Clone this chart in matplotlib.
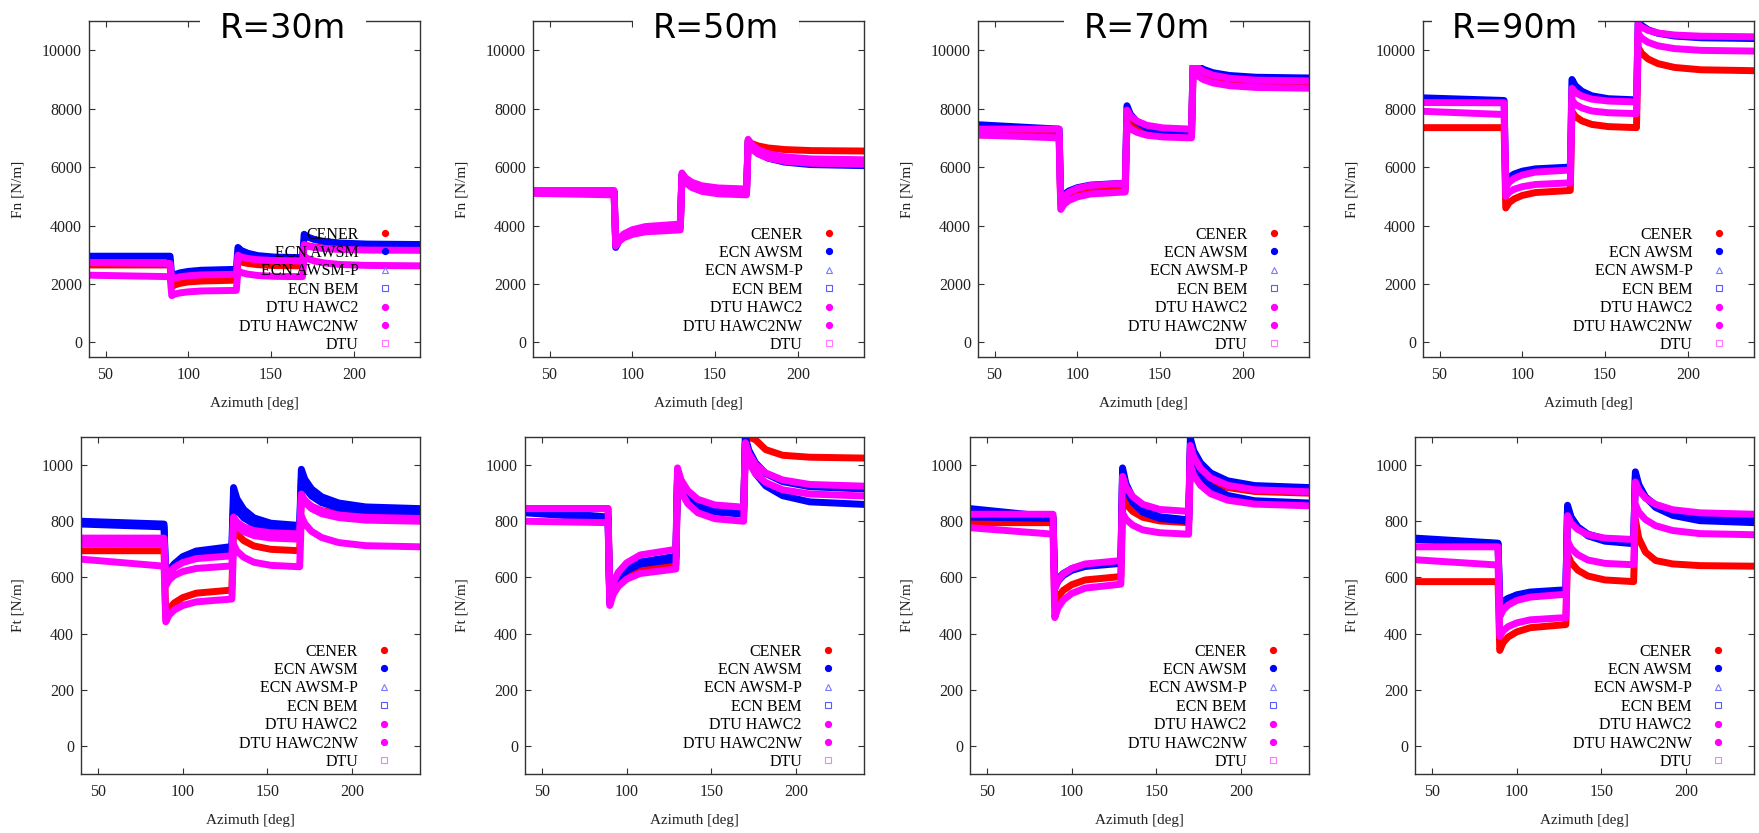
#!/usr/bin/env python3
"""Normal and tangential blade loads vs azimuth for four radial stations."""

import matplotlib
matplotlib.use('Agg')
import matplotlib.pyplot as plt
from matplotlib.lines import Line2D

# azimuth stations [deg] shared by all series
AZ = [40, 89, 90, 92, 95, 100, 108, 129, 130, 132, 136, 142, 152, 169,
      170, 172, 176, 182, 192, 208, 240]

RADII = ['R=30m', 'R=50m', 'R=70m', 'R=90m']
SERIES = ['CENER', 'ECN AWSM', 'ECN AWSM-P', 'ECN BEM', 'DTU HAWC2', 'DTU HAWC2NW', 'DTU']

# ---- Fn [N/m] ----
fn30_cener = [2650, 2650, 1900, 1970, 2020, 2070, 2100, 2130, 2800, 2750, 2700, 2660, 2630, 2620, 3350, 3310, 3265, 3230, 3200, 3190, 3180]
fn30_awsm = [2950, 2950, 2250, 2325, 2380, 2430, 2470, 2500, 3250, 3145, 3050, 2970, 2920, 2900, 3700, 3610, 3525, 3455, 3400, 3365, 3350]
fn30_hawc2 = [2730, 2700, 2150, 2200, 2245, 2280, 2310, 2330, 2980, 2925, 2870, 2830, 2800, 2790, 3350, 3300, 3250, 3210, 3180, 3160, 3150]
fn30_hawc2nw = [2300, 2250, 1600, 1655, 1695, 1730, 1760, 1780, 2450, 2390, 2335, 2290, 2260, 2250, 2950, 2870, 2785, 2720, 2665, 2635, 2620]

fn50_cener = [5150, 5150, 3300, 3495, 3640, 3770, 3870, 3950, 5700, 5520, 5350, 5220, 5140, 5100, 6900, 6810, 6725, 6655, 6600, 6565, 6550]
fn50_awsm = [5200, 5150, 3250, 3475, 3640, 3790, 3910, 4000, 5750, 5570, 5400, 5270, 5185, 5150, 6900, 6690, 6475, 6305, 6170, 6085, 6050]
fn50_hawc2 = [5200, 5200, 3350, 3560, 3715, 3855, 3965, 4050, 5800, 5635, 5480, 5360, 5285, 5250, 6950, 6775, 6600, 6460, 6350, 6280, 6250]
fn50_hawc2nw = [5100, 5050, 3300, 3465, 3585, 3695, 3785, 3850, 5650, 5470, 5300, 5170, 5085, 5050, 6800, 6625, 6450, 6310, 6200, 6130, 6100]

fn70_cener = [7100, 7100, 4700, 4865, 4985, 5095, 5185, 5250, 7600, 7450, 7310, 7200, 7130, 7100, 9400, 9250, 9100, 8980, 8885, 8825, 8800]
fn70_awsm = [7450, 7300, 4900, 5065, 5185, 5295, 5385, 5450, 8100, 7815, 7550, 7340, 7205, 7150, 9650, 9500, 9350, 9230, 9135, 9075, 9050]
fn70_hawc2 = [7300, 7300, 4800, 4995, 5140, 5270, 5370, 5450, 7950, 7755, 7575, 7430, 7340, 7300, 9600, 9440, 9275, 9145, 9040, 8975, 8950]
fn70_hawc2nw = [7100, 7000, 4550, 4730, 4860, 4980, 5080, 5150, 7450, 7315, 7190, 7090, 7030, 7000, 9300, 9150, 9000, 8880, 8785, 8725, 8700]

fn90_cener = [7350, 7350, 4600, 4780, 4910, 5030, 5130, 5200, 7900, 7735, 7580, 7460, 7385, 7350, 10100, 9900, 9700, 9540, 9410, 9330, 9300]
fn90_awsm = [8370, 8280, 5500, 5650, 5760, 5860, 5940, 6000, 9000, 8790, 8595, 8440, 8340, 8300, 11000, 10850, 10700, 10580, 10485, 10425, 10400]
fn90_hawc2 = [8210, 8200, 5300, 5480, 5610, 5730, 5830, 5900, 8700, 8560, 8430, 8325, 8260, 8230, 10900, 10790, 10680, 10590, 10520, 10480, 10460]
fn90_hawc2nw = [7910, 7800, 5000, 5140, 5240, 5330, 5405, 5460, 8290, 8150, 8025, 7920, 7860, 7830, 10570, 10420, 10270, 10150, 10055, 9995, 9970]

# ---- Ft [N/m] ----
ft30_cener = [695, 695, 460, 489, 509, 528, 544, 555, 780, 755, 731, 712, 700, 695, 890, 871, 852, 838, 826, 818, 815]
ft30_awsm = [800, 790, 580, 619, 648, 674, 694, 710, 920, 880, 842, 812, 793, 785, 985, 950, 915, 887, 865, 851, 845]
ft30_bem = [790, 780, 600, 627, 647, 665, 679, 690, 870, 840, 812, 790, 776, 770, 950, 920, 890, 866, 847, 835, 830]
ft30_hawc2 = [740, 740, 590, 616, 635, 653, 667, 677, 815, 797, 780, 767, 759, 755, 897, 875, 854, 836, 822, 814, 810]
ft30_hawc2nw = [665, 640, 442, 466, 484, 500, 513, 523, 718, 694, 672, 654, 643, 638, 819, 792, 764, 742, 724, 713, 709]
ft30_dtu = [720, 720, 570, 591, 607, 621, 632, 641, 800, 781, 763, 749, 740, 736, 890, 868, 845, 827, 813, 804, 800]

ft50_cener = [845, 845, 520, 558, 585, 610, 630, 645, 960, 922, 888, 860, 842, 835, 1100, 1100, 1090, 1055, 1035, 1028, 1025]
ft50_awsm = [840, 815, 510, 560, 596, 629, 655, 675, 975, 933, 894, 863, 843, 835, 1100, 1054, 1008, 970, 941, 923, 915]
ft50_bem = [830, 810, 520, 564, 595, 624, 648, 665, 960, 920, 882, 852, 833, 825, 1080, 1025, 970, 926, 891, 869, 860]
ft50_hawc2 = [845, 845, 530, 581, 618, 652, 680, 700, 990, 948, 909, 878, 858, 850, 1080, 1041, 1002, 972, 947, 931, 925]
ft50_hawc2nw = [800, 795, 500, 539, 568, 594, 614, 630, 950, 905, 863, 830, 809, 800, 1050, 1010, 970, 938, 912, 897, 890]

ft70_cener = [795, 795, 500, 531, 554, 574, 591, 603, 890, 862, 835, 814, 801, 795, 1040, 1005, 970, 942, 920, 906, 900]
ft70_awsm = [845, 815, 570, 596, 614, 631, 645, 655, 990, 934, 883, 842, 816, 805, 1095, 1051, 1008, 972, 944, 927, 920]
ft70_bem = [815, 810, 560, 587, 607, 625, 639, 650, 960, 912, 867, 832, 810, 800, 1060, 1011, 962, 924, 892, 873, 865]
ft70_hawc2 = [825, 825, 560, 590, 612, 632, 648, 660, 960, 922, 888, 860, 842, 835, 1070, 1029, 988, 954, 928, 912, 905]
ft70_hawc2nw = [777, 754, 457, 493, 519, 543, 562, 576, 830, 807, 786, 769, 759, 754, 1000, 964, 928, 898, 875, 861, 855]

ft90_cener = [585, 585, 340, 368, 388, 406, 421, 432, 683, 654, 626, 605, 591, 585, 807, 740, 690, 660, 648, 642, 640]
ft90_awsm = [740, 722, 490, 510, 524, 538, 548, 556, 857, 816, 778, 748, 729, 720, 976, 931, 886, 849, 821, 802, 795]
ft90_bem = [735, 720, 500, 515, 526, 536, 544, 550, 850, 814, 780, 754, 737, 730, 960, 923, 886, 857, 834, 819, 813]
ft90_hawc2 = [709, 709, 460, 484, 502, 518, 530, 540, 820, 794, 771, 752, 740, 735, 940, 911, 882, 860, 841, 830, 825]
ft90_hawc2nw = [663, 644, 390, 410, 425, 438, 449, 457, 730, 704, 681, 662, 650, 645, 860, 833, 806, 784, 767, 756, 752]

# series keyed by legend name (missing = hidden under the others)
fn_panels = [
    {'CENER': fn30_cener, 'ECN AWSM': fn30_awsm, 'DTU HAWC2': fn30_hawc2, 'DTU HAWC2NW': fn30_hawc2nw},
    {'CENER': fn50_cener, 'ECN AWSM': fn50_awsm, 'DTU HAWC2': fn50_hawc2, 'DTU HAWC2NW': fn50_hawc2nw},
    {'CENER': fn70_cener, 'ECN AWSM': fn70_awsm, 'DTU HAWC2': fn70_hawc2, 'DTU HAWC2NW': fn70_hawc2nw},
    {'CENER': fn90_cener, 'ECN AWSM': fn90_awsm, 'DTU HAWC2': fn90_hawc2, 'DTU HAWC2NW': fn90_hawc2nw},
]
ft_panels = [
    {'CENER': ft30_cener, 'ECN AWSM': ft30_awsm, 'ECN BEM': ft30_bem, 'DTU HAWC2': ft30_hawc2,
     'DTU HAWC2NW': ft30_hawc2nw, 'DTU': ft30_dtu},
    {'CENER': ft50_cener, 'ECN AWSM': ft50_awsm, 'ECN BEM': ft50_bem, 'DTU HAWC2': ft50_hawc2,
     'DTU HAWC2NW': ft50_hawc2nw},
    {'CENER': ft70_cener, 'ECN AWSM': ft70_awsm, 'ECN BEM': ft70_bem, 'DTU HAWC2': ft70_hawc2,
     'DTU HAWC2NW': ft70_hawc2nw},
    {'CENER': ft90_cener, 'ECN AWSM': ft90_awsm, 'ECN BEM': ft90_bem, 'DTU HAWC2': ft90_hawc2,
     'DTU HAWC2NW': ft90_hawc2nw},
]

# gnuplot-like styles
RED, BLUE, MAG = '#ff0000', '#0000ff', '#ff00ff'
line_color = {'CENER': RED, 'ECN AWSM': BLUE, 'ECN AWSM-P': BLUE, 'ECN BEM': BLUE,
              'DTU HAWC2': MAG, 'DTU HAWC2NW': MAG, 'DTU': MAG}
key_style = {
    'CENER': dict(marker='o', color=RED, mfc=RED, ms=4.2),
    'ECN AWSM': dict(marker='o', color=BLUE, mfc=BLUE, ms=4.2),
    'ECN AWSM-P': dict(marker='^', color='#7a7aff', mfc='none', ms=4.5, mew=0.8),
    'ECN BEM': dict(marker='s', color='#5a5aff', mfc='none', ms=4.5, mew=0.8),
    'DTU HAWC2': dict(marker='o', color=MAG, mfc=MAG, ms=4.2),
    'DTU HAWC2NW': dict(marker='o', color=MAG, mfc=MAG, ms=4.2),
    'DTU': dict(marker='s', color='#ff7aff', mfc='none', ms=4.5, mew=0.8),
}

plt.rcParams['font.family'] = ['Liberation Serif']

W, H = 1759, 833
fig = plt.figure(figsize=(W / 100, H / 100), dpi=100)

top_left = [89, 533, 978, 1423]
bot_left = [81, 525, 970, 1415]
title_x = [283, 716, 1147, 1515]
FS = 11.5


def draw_panel(ax, data, ylim, yticks, ylabel, ylab_x):
    for name in SERIES:
        vals = data.get(name)
        if vals is None:
            continue
        ax.plot(AZ, vals, color=line_color[name], lw=5.0,
                solid_capstyle='round', solid_joinstyle='round')
    ax.set_xlim(40, 240)
    ax.set_ylim(*ylim)
    ax.set_xticks([50, 100, 150, 200])
    ax.set_yticks(yticks)
    ax.tick_params(direction='in', length=4, width=0.8, top=True, right=True,
                   labelsize=FS, colors='#333333', labelcolor='#222222')
    ax.tick_params(axis='x', pad=7)
    ax.tick_params(axis='y', pad=5)
    for sp in ax.spines.values():
        sp.set_color('#333333')
        sp.set_linewidth(1.0)
    ax.set_xlabel('Azimuth [deg]', fontsize=11, color='#222222')
    ax.set_ylabel(ylabel, fontsize=11, color='#222222')
    ax.xaxis.set_label_coords(0.5, -0.137)
    ax.xaxis.label.set_va('center')
    ax.yaxis.set_label_coords(ylab_x, 0.5)
    ax.yaxis.label.set_va('center')

    handles = [Line2D([], [], ls='none', **key_style[n]) for n in SERIES]
    ax.legend(handles, SERIES, loc='lower right', bbox_to_anchor=(0.918, 0.012),
              frameon=False, markerfirst=False, fontsize=FS, handlelength=1.0,
              handletextpad=1.15, labelspacing=0.15, borderpad=0, borderaxespad=0)


for i in range(4):
    ax = fig.add_axes([top_left[i] / W, 1 - 357 / H, 331 / W, 336 / H])
    draw_panel(ax, fn_panels[i], (-500, 11000), range(0, 10001, 2000), 'Fn [N/m]', -0.215)

    ax = fig.add_axes([bot_left[i] / W, 1 - 774 / H, 339 / W, 337 / H])
    draw_panel(ax, ft_panels[i], (-100, 1100), range(0, 1001, 200), 'Ft [N/m]', -0.186)

    # radius title sitting on the top frame
    fig.text(title_x[i] / W, 1 - 28 / H, RADII[i], fontsize=24, family='DejaVu Sans',
             ha='center', va='center',
             bbox=dict(boxstyle='square,pad=0.6', fc='white', ec='none'))

fig.savefig('out.png', dpi=100)
